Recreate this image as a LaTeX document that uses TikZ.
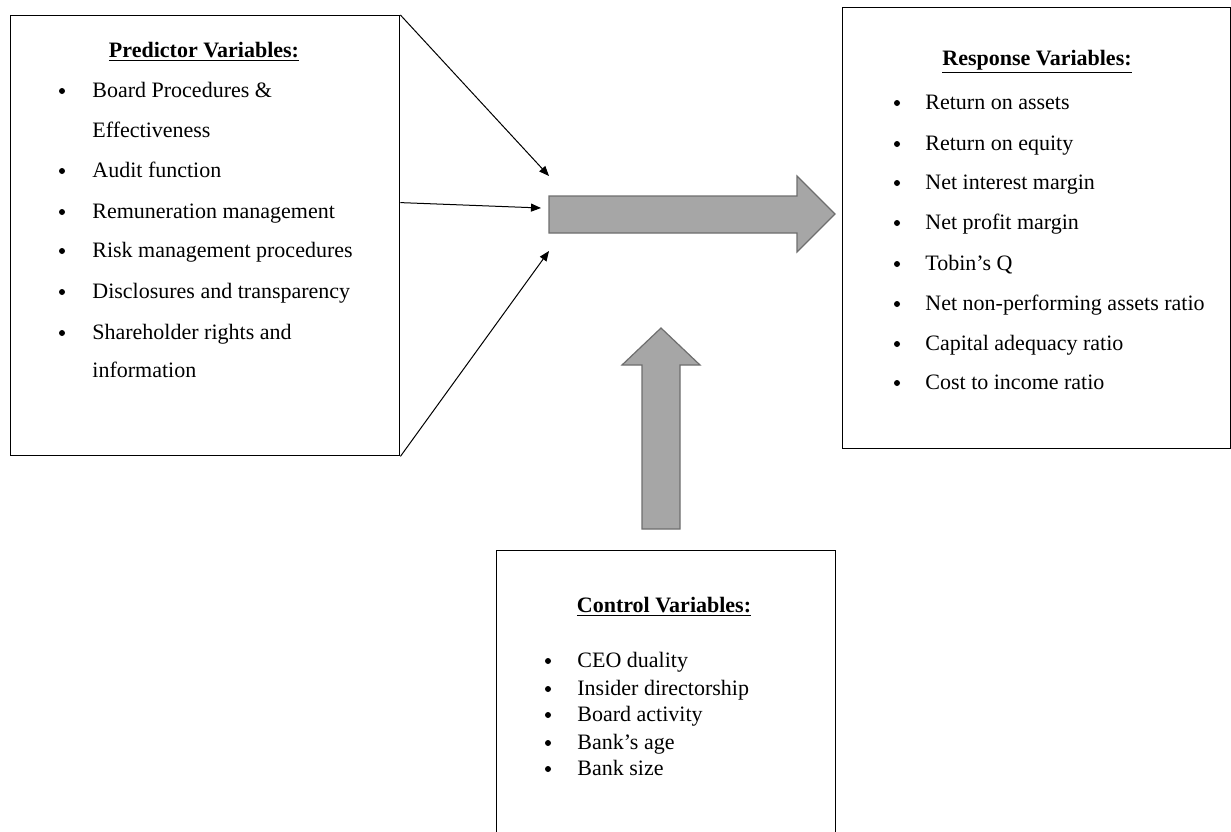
\documentclass[tikz,border=0pt]{standalone}
\usepackage{fontspec}
\setmainfont{Liberation Serif}
\usetikzlibrary{arrows.meta,calc}
\definecolor{arrowgray}{HTML}{A6A6A6}
\definecolor{edgegray}{HTML}{6E6E6E}

\begin{document}
\begin{tikzpicture}[x=0.5pt,y=-0.5pt,
                    varbox/.style={draw, line width=0.7pt, inner sep=0pt, anchor=north west},
                    heading/.style={font=\fontsize{11}{13}\selectfont\bfseries, inner sep=0pt},
                    entry/.style={anchor=west, font=\fontsize{11}{13}\selectfont, inner sep=0pt,
                                  text height=7.5pt, text depth=0pt},
                    dot/.style={circle, fill, inner sep=0pt, minimum size=3pt},
                    feed/.style={-{Triangle[length=5pt,width=4pt]}, line width=0.5pt},
                    fatarrow/.style={fill=arrowgray, draw=edgegray, line width=0.6pt}]
    \useasboundingbox (0,0) rectangle (1231,831);
    % boxes
    \node[varbox, minimum width=194.5pt, minimum height=220pt] (pred) at (10,15) {};
    \node[varbox, minimum width=194pt, minimum height=220.5pt] (resp) at (842,7) {};
    \node[varbox, minimum width=169.5pt, minimum height=145pt] (ctrl) at (496,550) {};
    % predictor variables
    \node[heading] (predtitle) at (204,52) {\underline{Predictor Variables:}};
    \foreach \yy [count=\i] in {90,170,211,250,291,332}
        \node[dot] (pb\i) at (62,\yy+1) {};
    \foreach \yy/\txt [count=\i] in {90/Board Procedures \&, 130/Effectiveness,
                                      170/Audit function, 211/Remuneration management,
                                      250/Risk management procedures,
                                      291/Disclosures and transparency,
                                      332/Shareholder rights and, 370/information}
        \node[entry] (p\i) at (92,\yy) {\txt};
    % response variables
    \node[heading] (resptitle) at (1037,62) {\underline{Response Variables:}};
    \foreach \yy/\txt [count=\i] in {102/Return on assets, 143/Return on equity,
                                      182/Net interest margin, 222/Net profit margin,
                                      263/Tobin's Q, 303/Net non-performing assets ratio,
                                      343/Capital adequacy ratio, 382/Cost to income ratio}
    {
        \node[dot] (rb\i) at (897,\yy+1) {};
        \node[entry] (r\i) at (925,\yy) {\txt};
    }
    % control variables
    \node[heading] (ctrltitle) at (664,607) {\underline{Control Variables:}};
    \foreach \yy/\txt [count=\i] in {660/CEO duality, 688/Insider directorship,
                                      714/Board activity, 742/Bank's age, 768/Bank size}
    {
        \node[dot] (cb\i) at (548,\yy+1) {};
        \node[entry] (c\i) at (577,\yy) {\txt};
    }
    % thin arrows into the main arrow
    \coordinate (in1) at (549,176);
    \coordinate (in2) at (541,208);
    \coordinate (in3) at (549,251);
    \draw[feed] (pred.north east) -- (in1);
    \draw[feed] ($(pred.north east)!0.425!(pred.south east)$) -- (in2);
    \draw[feed] (pred.south east) -- (in3);
    % block arrows
    \draw[fatarrow] (549,196) -- (797,196) -- (797,176) -- (835,214)
                    -- (797,252) -- (797,233) -- (549,233) -- cycle;
    \draw[fatarrow] (642,529) -- (642,365) -- (622,365) -- (661,328)
                    -- (700,365) -- (680,365) -- (680,529) -- cycle;
\end{tikzpicture}
\end{document}
